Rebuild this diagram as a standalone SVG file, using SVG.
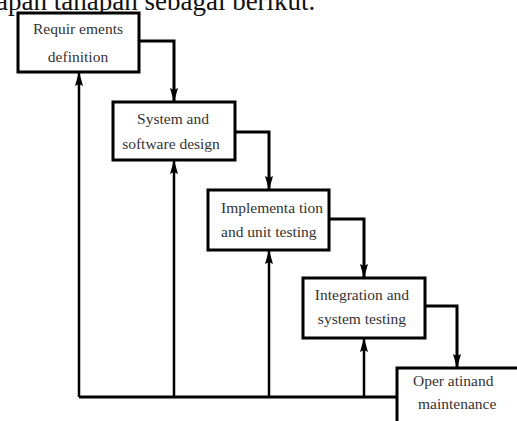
<svg xmlns="http://www.w3.org/2000/svg" width="517" height="421" viewBox="0 0 517 421">
  <style>
    .box { fill: #ffffff; stroke: #000000; stroke-width: 3; }
    .flow { fill: none; stroke: #000000; stroke-width: 3; }
    .back { fill: none; stroke: #000000; stroke-width: 2.5; }
    .lbl { font-family: "Liberation Serif", "Times New Roman", serif; font-size: 15.5px; fill: #333333; }
    .mid { text-anchor: middle; }
    .head { font-family: "Liberation Serif", "Times New Roman", serif; font-size: 27px; fill: #111111; }
  </style>
  <defs>
    <marker id="arrow" markerUnits="userSpaceOnUse" markerWidth="14" markerHeight="8" refX="13" refY="4" orient="auto" viewBox="0 0 14 8">
      <path d="M0,0 L14,4 L0,8 L2,4 Z" fill="#000000"/>
    </marker>
  </defs>

  <rect width="517" height="421" fill="#ffffff"/>

  <!-- running text line above the figure, cut at the top edge -->
  <text class="head" x="-4" y="10">apan tahapan sebagai berikut.</text>

  <g id="connectors">
    <!-- forward flow between phases -->
    <path class="flow" d="M139,41 H174 V101" marker-end="url(#arrow)"/>
    <path class="flow" d="M235,132 H269 V189" marker-end="url(#arrow)"/>
    <path class="flow" d="M329,219 H364 V277" marker-end="url(#arrow)"/>
    <path class="flow" d="M425,306 H457 V367" marker-end="url(#arrow)"/>
    <!-- feedback bus -->
    <path class="flow" d="M79,397 H398"/>
    <path class="back" d="M79,397 V73" marker-end="url(#arrow)"/>
    <path class="back" d="M174,397 V161" marker-end="url(#arrow)"/>
    <path class="back" d="M269,397 V251" marker-end="url(#arrow)"/>
    <path class="back" d="M364,397 V339" marker-end="url(#arrow)"/>
  </g>

  <g id="requirements">
    <rect class="box" x="18" y="13" width="121" height="59"/>
    <text class="lbl mid" x="78" y="34">Requir ements</text>
    <text class="lbl mid" x="78" y="62">definition</text>
  </g>

  <g id="design">
    <rect class="box" x="113" y="102" width="122" height="58"/>
    <text class="lbl mid" x="173" y="124">System and</text>
    <text class="lbl mid" x="171" y="149">software design</text>
  </g>

  <g id="implementation">
    <rect class="box" x="208" y="190" width="121" height="60"/>
    <text class="lbl" x="221" y="213">Implementa tion</text>
    <text class="lbl" x="221" y="237">and unit testing</text>
  </g>

  <g id="integration">
    <rect class="box" x="303" y="278" width="122" height="60"/>
    <text class="lbl mid" x="362" y="300">Integration and</text>
    <text class="lbl mid" x="362" y="324">system testing</text>
  </g>

  <g id="operation">
    <rect class="box" x="397" y="368" width="130" height="70"/>
    <text class="lbl" x="413" y="386">Oper  atinand</text>
    <text class="lbl" x="418" y="409">maintenance</text>
  </g>
</svg>
